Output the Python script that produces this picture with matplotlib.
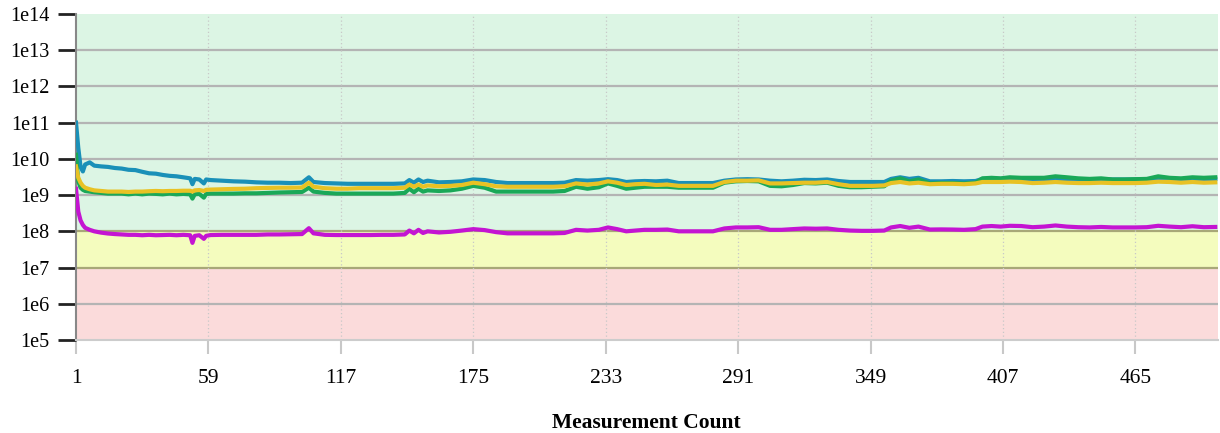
import matplotlib
matplotlib.use("Agg")
import matplotlib.pyplot as plt
import numpy as np

plt.rcParams["font.family"] = ["Liberation Serif", "DejaVu Serif"]

# measurement positions sampled off the chart
meas = [1, 2, 3, 4, 5, 7, 9, 12, 15, 18,
        21, 24, 27, 30, 33, 36, 39, 42, 45, 48,
        51, 52, 53, 55, 57, 58, 60, 65, 70, 75,
        80, 85, 90, 95, 100, 103, 105, 110, 115, 120,
        125, 130, 135, 140, 145, 147, 149, 151, 153, 155,
        160, 165, 170, 175, 180, 185, 190, 195, 200, 205,
        210, 215, 220, 225, 230, 234, 238, 242, 246, 250,
        255, 260, 265, 270, 275, 280, 285, 290, 295, 300,
        305, 310, 315, 320, 325, 330, 335, 340, 345, 350,
        355, 358, 362, 366, 370, 375, 380, 385, 390, 395,
        398, 402, 406, 410, 415, 420, 425, 430, 435, 440,
        445, 450, 455, 460, 465, 470, 475, 480, 485, 490,
        495, 500]

teal = [1.0e11, 2.0e10, 6.0e9, 4.5e9, 7.0e9, 8.0e9, 6.5e9, 6.2e9, 6.0e9, 5.6e9,
        5.4e9, 5.0e9, 4.9e9, 4.4e9, 4.0e9, 3.9e9, 3.6e9, 3.4e9, 3.3e9, 3.1e9,
        2.9e9, 2.0e9, 2.8e9, 2.7e9, 2.1e9, 2.7e9, 2.6e9, 2.5e9, 2.4e9, 2.35e9,
        2.25e9, 2.2e9, 2.2e9, 2.15e9, 2.2e9, 3.1e9, 2.3e9, 2.15e9, 2.1e9, 2.05e9,
        2.05e9, 2.05e9, 2.05e9, 2.05e9, 2.1e9, 2.6e9, 2.2e9, 2.7e9, 2.3e9, 2.5e9,
        2.25e9, 2.3e9, 2.4e9, 2.7e9, 2.6e9, 2.3e9, 2.15e9, 2.15e9, 2.15e9, 2.15e9,
        2.15e9, 2.2e9, 2.6e9, 2.5e9, 2.6e9, 2.75e9, 2.6e9, 2.3e9, 2.4e9, 2.45e9,
        2.4e9, 2.5e9, 2.15e9, 2.15e9, 2.15e9, 2.15e9, 2.5e9, 2.7e9, 2.75e9, 2.7e9,
        2.5e9, 2.4e9, 2.5e9, 2.65e9, 2.6e9, 2.7e9, 2.45e9, 2.3e9, 2.3e9, 2.3e9,
        2.3e9, 2.8e9, 3.1e9, 2.8e9, 3.0e9, 2.4e9, 2.4e9, 2.45e9, 2.4e9, 2.45e9,
        2.8e9, 2.85e9, 2.8e9, 2.85e9, 2.8e9, 2.7e9, 2.7e9, 2.75e9, 2.7e9, 2.7e9,
        2.7e9, 2.75e9, 2.7e9, 2.7e9, 2.7e9, 2.75e9, 2.8e9, 2.8e9, 2.75e9, 2.8e9,
        2.75e9, 2.8e9]

green = [1.3e10, 2.4e9, 1.6e9, 1.4e9, 1.3e9, 1.25e9, 1.2e9, 1.15e9, 1.1e9, 1.1e9,
         1.1e9, 1.05e9, 1.1e9, 1.05e9, 1.1e9, 1.08e9, 1.05e9, 1.1e9, 1.05e9, 1.08e9,
         1.05e9, 0.8e9, 1.05e9, 1.08e9, 0.85e9, 1.08e9, 1.1e9, 1.1e9, 1.1e9, 1.12e9,
         1.12e9, 1.15e9, 1.18e9, 1.2e9, 1.22e9, 1.6e9, 1.25e9, 1.15e9, 1.1e9, 1.1e9,
         1.1e9, 1.1e9, 1.1e9, 1.1e9, 1.15e9, 1.5e9, 1.2e9, 1.5e9, 1.25e9, 1.35e9,
         1.3e9, 1.35e9, 1.5e9, 1.8e9, 1.6e9, 1.25e9, 1.25e9, 1.25e9, 1.25e9, 1.25e9,
         1.25e9, 1.3e9, 1.7e9, 1.5e9, 1.65e9, 2.1e9, 1.8e9, 1.5e9, 1.6e9, 1.7e9,
         1.7e9, 1.7e9, 1.6e9, 1.6e9, 1.6e9, 1.6e9, 2.2e9, 2.4e9, 2.45e9, 2.4e9,
         1.8e9, 1.75e9, 1.9e9, 2.15e9, 2.1e9, 2.2e9, 1.8e9, 1.65e9, 1.65e9, 1.7e9,
         1.75e9, 2.5e9, 2.9e9, 2.4e9, 2.7e9, 2.1e9, 2.15e9, 2.15e9, 2.1e9, 2.2e9,
         2.9e9, 3.0e9, 2.9e9, 3.1e9, 3.0e9, 3.0e9, 3.0e9, 3.3e9, 3.1e9, 2.9e9,
         2.8e9, 2.9e9, 2.7e9, 2.7e9, 2.75e9, 2.8e9, 3.3e9, 3.0e9, 2.9e9, 3.1e9,
         3.0e9, 3.1e9]

yellow = [6.2e9, 3.0e9, 2.2e9, 1.8e9, 1.6e9, 1.45e9, 1.35e9, 1.3e9, 1.25e9, 1.25e9,
          1.25e9, 1.22e9, 1.25e9, 1.25e9, 1.28e9, 1.3e9, 1.28e9, 1.3e9, 1.3e9, 1.32e9,
          1.32e9, 1.25e9, 1.35e9, 1.38e9, 1.3e9, 1.4e9, 1.42e9, 1.45e9, 1.48e9, 1.5e9,
          1.55e9, 1.58e9, 1.6e9, 1.6e9, 1.62e9, 2.2e9, 1.7e9, 1.55e9, 1.5e9, 1.5e9,
          1.55e9, 1.55e9, 1.55e9, 1.55e9, 1.6e9, 1.95e9, 1.7e9, 1.95e9, 1.7e9, 1.85e9,
          1.75e9, 1.8e9, 1.9e9, 2.2e9, 2.0e9, 1.75e9, 1.7e9, 1.7e9, 1.7e9, 1.7e9,
          1.7e9, 1.75e9, 2.1e9, 1.95e9, 2.1e9, 2.4e9, 2.2e9, 1.9e9, 2.0e9, 2.05e9,
          1.9e9, 1.95e9, 1.8e9, 1.8e9, 1.8e9, 1.8e9, 2.3e9, 2.5e9, 2.5e9, 2.55e9,
          2.1e9, 2.1e9, 2.15e9, 2.2e9, 2.2e9, 2.3e9, 2.0e9, 1.8e9, 1.8e9, 1.8e9,
          1.85e9, 2.15e9, 2.3e9, 2.1e9, 2.2e9, 2.0e9, 2.05e9, 2.05e9, 2.0e9, 2.1e9,
          2.3e9, 2.3e9, 2.3e9, 2.35e9, 2.3e9, 2.15e9, 2.2e9, 2.3e9, 2.2e9, 2.15e9,
          2.15e9, 2.2e9, 2.15e9, 2.15e9, 2.15e9, 2.2e9, 2.35e9, 2.3e9, 2.2e9, 2.3e9,
          2.2e9, 2.25e9]

magenta = [1.5e9, 3.5e8, 2.0e8, 1.5e8, 1.25e8, 1.1e8, 1.0e8, 0.92e8, 0.87e8, 0.84e8,
           0.82e8, 0.8e8, 0.8e8, 0.78e8, 0.8e8, 0.78e8, 0.79e8, 0.8e8, 0.78e8, 0.8e8,
           0.78e8, 0.48e8, 0.75e8, 0.78e8, 0.62e8, 0.75e8, 0.79e8, 0.8e8, 0.8e8, 0.8e8,
           0.8e8, 0.82e8, 0.82e8, 0.83e8, 0.84e8, 1.22e8, 0.88e8, 0.8e8, 0.79e8, 0.79e8,
           0.79e8, 0.79e8, 0.8e8, 0.8e8, 0.82e8, 1.05e8, 0.88e8, 1.1e8, 0.9e8, 1.0e8,
           0.93e8, 0.97e8, 1.05e8, 1.15e8, 1.08e8, 0.95e8, 0.88e8, 0.88e8, 0.88e8, 0.88e8,
           0.88e8, 0.9e8, 1.1e8, 1.05e8, 1.1e8, 1.28e8, 1.15e8, 1.0e8, 1.05e8, 1.1e8,
           1.1e8, 1.12e8, 1.0e8, 1.0e8, 1.0e8, 1.0e8, 1.2e8, 1.28e8, 1.28e8, 1.3e8,
           1.1e8, 1.1e8, 1.15e8, 1.2e8, 1.18e8, 1.2e8, 1.1e8, 1.05e8, 1.03e8, 1.03e8,
           1.05e8, 1.28e8, 1.4e8, 1.25e8, 1.35e8, 1.12e8, 1.13e8, 1.12e8, 1.1e8, 1.15e8,
           1.35e8, 1.4e8, 1.35e8, 1.42e8, 1.4e8, 1.3e8, 1.35e8, 1.45e8, 1.35e8, 1.3e8,
           1.28e8, 1.32e8, 1.28e8, 1.28e8, 1.28e8, 1.3e8, 1.42e8, 1.35e8, 1.3e8, 1.38e8,
           1.3e8, 1.32e8]

x_ticks = [1, 59, 117, 175, 233, 291, 349, 407, 465]
y_ticks = [1e5, 1e6, 1e7, 1e8, 1e9, 1e10, 1e11, 1e12, 1e13, 1e14]
y_labels = ["1e5", "1e6", "1e7", "1e8", "1e9", "1e10", "1e11", "1e12", "1e13", "1e14"]

# background bands: (low, high, colour)
bands = [(1e5, 1e7, "#fbdbdb"), (1e7, 1e8, "#f4fcbe"), (1e8, 1e14, "#dcf5e4")]

fig = plt.figure(figsize=(12.2, 4.33), dpi=100)
ax = fig.add_axes([0.0623, 0.2148, 0.9357, 0.7529])

for lo, hi, c in bands:
    ax.axhspan(lo, hi, color=c, zorder=0, lw=0)

ax.set_yscale("log")
ax.set_xlim(1, 501)
ax.set_ylim(1e5, 1e14)

for yv in y_ticks[1:-1]:
    col = "#a8a878" if yv in (1e7, 1e8) else "#b4b4b4"
    ax.axhline(yv, color=col, lw=1.6, zorder=1)
for xv in x_ticks[1:]:
    ax.axvline(xv, color="#c8c8c8", lw=0.9, ls=(0, (1, 2)), zorder=1)

series = [(teal, "#1a90b8"), (green, "#1aa858"), (yellow, "#e8c224"), (magenta, "#c414d2")]
for vals, c in series:
    ax.plot(meas, vals, color=c, lw=3.0, zorder=3, solid_joinstyle="round")

ax.set_xticks(x_ticks)
ax.set_xticklabels([str(t) for t in x_ticks])
ax.set_yticks(y_ticks)
ax.set_yticklabels(y_labels)
ax.minorticks_off()
ax.tick_params(axis="y", length=13, width=2, color="#222222", labelsize=14.5, pad=6)
ax.tick_params(axis="x", length=10, width=1.5, color="#c8c8c8", labelsize=15.5, pad=11)

for s in ("top", "right"):
    ax.spines[s].set_visible(False)
ax.spines["left"].set_color("#888888")
ax.spines["left"].set_linewidth(1.5)
ax.spines["bottom"].set_color("#cccccc")
ax.spines["bottom"].set_linewidth(1.5)

ax.set_xlabel("Measurement Count", fontsize=15.5, fontweight="bold", labelpad=18)

fig.savefig("out.png", dpi=100)
